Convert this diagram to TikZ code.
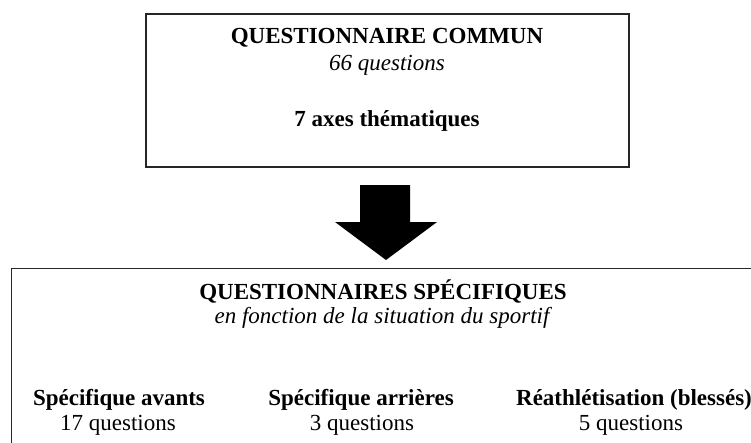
\documentclass[tikz,border=0pt]{standalone}
\usepackage{fontspec}
\setmainfont{Liberation Serif}
\usepackage{tikz}
\usetikzlibrary{positioning}
\tikzstyle{every node}+=[inner sep=0pt]
\tikzstyle{frame} = [draw=black!85, line width=1.2pt]
\tikzstyle{txt} = [anchor=base, font=\fontsize{23}{27}\selectfont]
\tikzstyle{bold} = [anchor=base, font=\fontsize{23}{27}\selectfont\bfseries]
\tikzstyle{slant} = [anchor=base, font=\fontsize{23}{27}\selectfont\itshape]

\begin{document}
\begin{tikzpicture}[x=1pt, y=-1pt]
            \clip (0,0) rectangle (751,442);
            % Place nodes
            \node [frame, minimum width=483pt, minimum height=153pt] (common) at (387.5,90.5) {};
            \node [bold] (ctitle) at (387,43) {QUESTIONNAIRE COMMUN};
            \node [slant] (cnum) at (387,70) {66 questions};
            \node [bold] (caxes) at (387,126) {7 axes thématiques};
            \node [frame, anchor=north west, minimum width=770pt, minimum height=200pt] (specific) at (11,268) {};
            \node [bold] (stitle) at (383,299) {QUESTIONNAIRES SPÉCIFIQUES};
            \node [slant] (ssub) at (382,323) {en fonction de la situation du sportif};
            \node [bold] (av) at (119,405) {Spécifique avants};
            \node [txt] (avn) at (118,430) {17 questions};
            \node [bold] (ar) at (361,405) {Spécifique arrières};
            \node [txt] (arn) at (362,430) {3 questions};
            \node [bold] (re) at (634,405) {Réathlétisation (blessés)};
            \node [txt] (ren) at (631,430) {5 questions};
            % Draw arrow
            \fill [black] (360,185) -- (410,185) -- (410,222) -- (437,222) -- (386,260) -- (335,222) -- (360,222) -- cycle;
\end{tikzpicture}
\end{document}
